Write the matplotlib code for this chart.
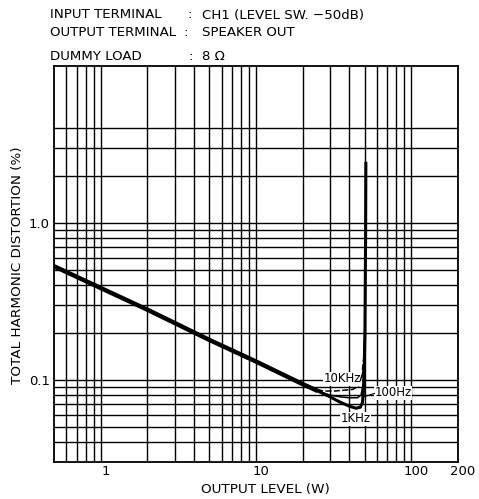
import numpy as np
import matplotlib
matplotlib.use("Agg")
import matplotlib.pyplot as plt
import matplotlib.transforms as mtransforms
from matplotlib.ticker import FixedLocator, NullLocator

plt.rcParams['font.family'] = ['DejaVu Sans']

# --- data ---
common_w = [0.5, 1, 2, 5, 10, 20, 25]
common_thd = [0.53, 0.385, 0.28, 0.18, 0.131, 0.094, 0.085]

thd_1k_w = [25, 30, 35, 40, 44, 47, 48.5, 49.5, 50.3, 50.8, 51.0]
thd_1k = [0.085, 0.078, 0.072, 0.068, 0.066, 0.067, 0.072, 0.09, 0.2, 0.8, 2.4]

thd_100_w = [25, 30, 35, 40, 45, 47.5, 49, 50.3]
thd_100 = [0.085, 0.08, 0.078, 0.077, 0.077, 0.08, 0.095, 0.2]

thd_10k_w = [22, 27, 32, 37, 42, 46, 48, 49.5, 50.5]
thd_10k = [0.09, 0.085, 0.085, 0.086, 0.087, 0.092, 0.105, 0.14, 0.25]

x_grid = [0.6, 0.7, 0.8, 0.9, 1, 2, 3, 4, 5, 6, 7, 8, 9,
          10, 20, 30, 40, 50, 60, 70, 80, 90, 100]
y_grid = [0.04, 0.05, 0.06, 0.07, 0.08, 0.09,
          0.1, 0.2, 0.3, 0.4, 0.5, 0.6, 0.7, 0.8, 0.9,
          1, 2, 3, 4]
x_ticks = [1, 10, 100, 200]
x_tick_labels = ['1', '10', '100', '200']
y_ticks = [0.1, 1.0]
y_tick_labels = ['0.1', '1.0']

header = [("INPUT TERMINAL", "CH1 (LEVEL SW. \u221250dB)"),
          ("OUTPUT TERMINAL", "SPEAKER OUT"),
          ("DUMMY LOAD", "8 \u03a9")]

W, H = 479, 499
fig = plt.figure(figsize=(W / 100, H / 100), dpi=100)
ax = fig.add_axes([54 / W, 37 / H, 404 / W, 396 / H])
ax.set_xscale('log')
ax.set_yscale('log')
ax.set_xlim(0.5, 200)
ax.set_ylim(0.03, 10)

for xv in x_grid:
    ax.axvline(xv, color='black', lw=1.0, zorder=1)
for yv in y_grid:
    ax.axhline(yv, color='black', lw=1.0, zorder=1)

ax.xaxis.set_major_locator(FixedLocator(x_ticks))
ax.xaxis.set_minor_locator(NullLocator())
ax.set_xticklabels(x_tick_labels)
ax.yaxis.set_major_locator(FixedLocator(y_ticks))
ax.yaxis.set_minor_locator(NullLocator())
ax.set_yticklabels(y_tick_labels)
ax.tick_params(axis='x', length=0, labelsize=9.5, pad=2)
ax.tick_params(axis='y', length=0, labelsize=9.5, pad=3)
# tick labels sit a little right of their grid lines in the original
shift = mtransforms.ScaledTranslation(5 / 100, 0, fig.dpi_scale_trans)
for lbl in ax.get_xticklabels():
    lbl.set_transform(lbl.get_transform() + shift)
for s in ax.spines.values():
    s.set_linewidth(1.3)

ax.plot(common_w, common_thd, color='black', lw=3.2, solid_capstyle='butt', zorder=3)
ax.plot(thd_1k_w, thd_1k, color='black', lw=2.2, zorder=3)
ax.plot(thd_100_w, thd_100, color='black', lw=1.1, zorder=3)
ax.plot(thd_10k_w, thd_10k, color='black', lw=1.1, ls=(0, (4, 1.5)), zorder=3)

ax.text(36, 0.102, "10KHz", fontsize=8.5, ha='center', va='center', zorder=4,
        bbox=dict(facecolor='white', edgecolor='none', pad=0.3))
ax.plot([47, 49.5], [0.099, 0.118], color='black', lw=1.0, zorder=4)
ax.text(58, 0.083, "100Hz", fontsize=8.5, ha='left', va='center', zorder=4,
        bbox=dict(facecolor='white', edgecolor='none', pad=0.3))
ax.plot([49, 58], [0.078, 0.082], color='black', lw=0.8, zorder=4)
ax.text(44, 0.0565, "1KHz", fontsize=8.5, ha='center', va='center', zorder=4,
        bbox=dict(facecolor='white', edgecolor='none', pad=0.3))

fig.text(265 / W, 1 - 490 / H, "OUTPUT LEVEL (W)", fontsize=9.7,
         ha='center', va='center')
fig.text(18 / W, 1 - 265 / H, "TOTAL HARMONIC DISTORTION (%)", fontsize=9.7,
         ha='center', va='center', rotation=90)

rows_y = [15, 33, 56]
colon_x = [187, 183, 188]
for (name, val), yy, cx in zip(header, rows_y, colon_x):
    fig.text(50 / W, 1 - yy / H, name, fontsize=9.6, ha='left', va='center')
    fig.text(cx / W, 1 - yy / H, ":", fontsize=9.6, ha='left', va='center')
    fig.text(202 / W, 1 - yy / H, val, fontsize=9.6, ha='left', va='center')

fig.savefig("out.png", dpi=100)
